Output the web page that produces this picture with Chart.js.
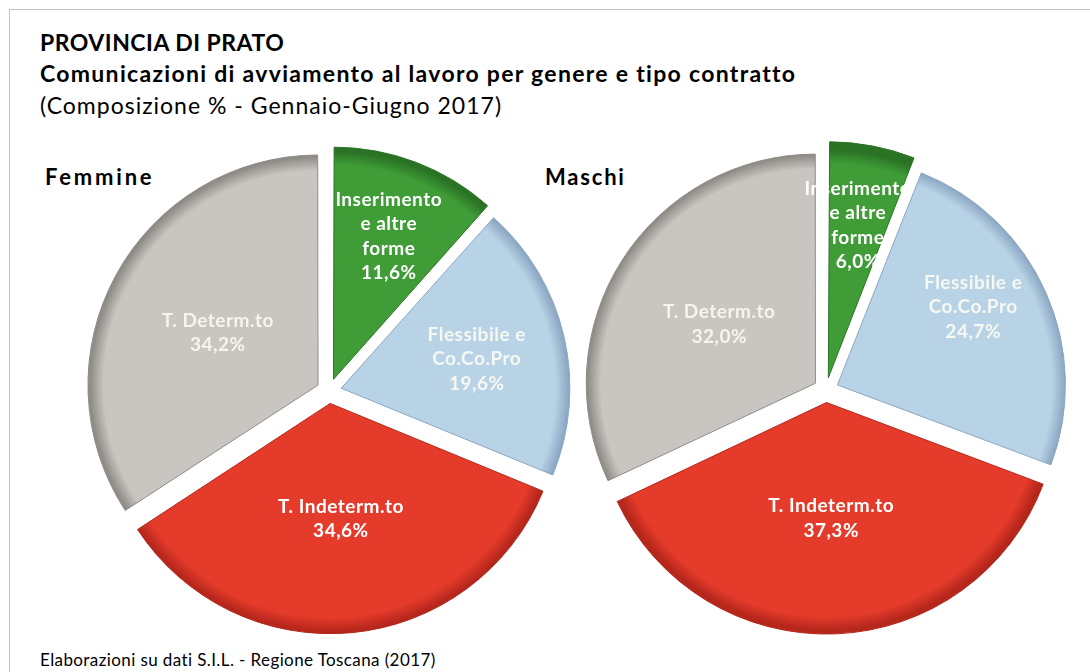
<!DOCTYPE html>
<html>
<head>
<meta charset="utf-8">
<script src="https://cdn.jsdelivr.net/npm/chart.js@4.4.0/dist/chart.umd.min.js"></script>
<style>
  body { margin: 0; background: #fff; font-family: Lato, "Noto Sans", sans-serif; }
  #frame { position: absolute; left: 9px; top: 9px; width: 1200px; height: 800px; border: 1px solid #c4c4c4; }
  .txt { position: absolute; white-space: nowrap; color: #000; line-height: 1; }
  #t1 { left: 40px; top: 31px; font-size: 23px; font-weight: bold; letter-spacing: 0.5px; }
  #t2 { left: 40px; top: 62px; font-size: 23px; font-weight: bold; letter-spacing: 1.3px; }
  #t3 { left: 40px; top: 94px; font-size: 23px; letter-spacing: 1px; }
  #foot { left: 40px; top: 651px; font-size: 17px; letter-spacing: 0.4px; }
  .sex { font-size: 22px; font-weight: bold; top: 166px; }
  #lf { left: 45px; letter-spacing: 2.8px; }
  #lm { left: 545px; letter-spacing: 1.8px; }
  canvas { position: absolute; }
  #pieF { left: 79px; top: 141px; }
  #pieM { left: 576px; top: 140px; }
</style>
</head>
<body>
<div id="frame"></div>
<div class="txt" id="t1">PROVINCIA DI PRATO</div>
<div class="txt" id="t2">Comunicazioni di avviamento al lavoro per genere e tipo contratto</div>
<div class="txt" id="t3">(Composizione % - Gennaio-Giugno 2017)</div>
<div class="txt sex" id="lf">Femmine</div>
<div class="txt sex" id="lm">Maschi</div>
<canvas id="pieF" width="500" height="500"></canvas>
<canvas id="pieM" width="500" height="500"></canvas>
<div class="txt" id="foot">Elaborazioni su dati S.I.L. - Regione Toscana (2017)</div>
<script>
// categories, clockwise from 12 o'clock
const categories = [
  ['Inserimento', 'e altre', 'forme'],
  ['Flessibile e', 'Co.Co.Pro'],
  ['T. Indeterm.to'],
  ['T. Determ.to']
];
const femmine = [11.6, 19.6, 34.6, 34.2];
const maschi = [6.0, 24.7, 37.3, 32.0];

const fills = ['#3f9c37', '#b8d2e6', '#e43b2b', '#c9c6c2'];
const edges = ['#2a7325', '#8ba6c2', '#b5261b', '#8f8c88'];
const textColors = ['#ffffff', '#f6f8f2', '#ffffff', '#f6f4ec'];
const RADIUS = 228;
const OFFSET = 50; // chart.js v4 moves an arc by offset / 4

// radial gradient so the outer rim looks bevelled
function rimFill(c) {
  const i = c.dataIndex;
  const area = c.chart.chartArea;
  if (!area || i === undefined) return fills[i] || fills[0];
  const cx = (area.left + area.right) / 2;
  const cy = (area.top + area.bottom) / 2;
  const g = c.chart.ctx.createRadialGradient(cx, cy, 0, cx, cy, RADIUS);
  g.addColorStop(0, fills[i]);
  g.addColorStop(0.94, fills[i]);
  g.addColorStop(1, edges[i]);
  return g;
}

// draws the category name and value inside each slice
const sliceLabels = {
  id: 'sliceLabels',
  afterDatasetsDraw(chart, args, opts) {
    const ctx = chart.ctx;
    const meta = chart.getDatasetMeta(0);
    const values = chart.data.datasets[0].data;
    ctx.save();
    ctx.font = 'bold 19px Lato, "Noto Sans", sans-serif';
    ctx.letterSpacing = '0.5px';
    ctx.textAlign = 'center';
    ctx.textBaseline = 'middle';
    meta.data.forEach((arc, i) => {
      const p = arc.getProps(['x', 'y', 'startAngle', 'endAngle', 'outerRadius']);
      const mid = (p.startAngle + p.endAngle) / 2 + (opts.turn[i] || 0) * Math.PI / 180;
      const r = arc.options.offset / 4 + p.outerRadius * opts.depth[i];
      const x = p.x + Math.cos(mid) * r;
      const y = p.y + Math.sin(mid) * r + 2;
      const lines = categories[i].concat([values[i].toFixed(1).replace('.', ',') + '%']);
      const lh = 24.5;
      ctx.fillStyle = textColors[i];
      lines.forEach((ln, k) => {
        ctx.fillText(ln, x, y + (k - (lines.length - 1) / 2) * lh);
      });
    });
    ctx.restore();
  }
};

function makePie(id, values, depth, turn) {
  new Chart(document.getElementById(id), {
    type: 'pie',
    data: {
      labels: categories.map(c => c.join(' ')),
      datasets: [{
        data: values,
        backgroundColor: rimFill,
        borderColor: edges,
        borderWidth: 1,
        offset: OFFSET
      }]
    },
    options: {
      responsive: false,
      animation: false,
      radius: RADIUS,
      layout: { padding: 0 },
      plugins: {
        legend: { display: false },
        tooltip: { enabled: false },
        sliceLabels: { depth: depth, turn: turn }
      }
    },
    plugins: [sliceLabels]
  });
}

makePie('pieF', femmine, [0.68, 0.61, 0.5, 0.5], [0, 0, 0, 0]);
makePie('pieM', maschi, [0.69, 0.69, 0.5, 0.5], [0, -6, 0, 0]);
</script>
</body>
</html>
